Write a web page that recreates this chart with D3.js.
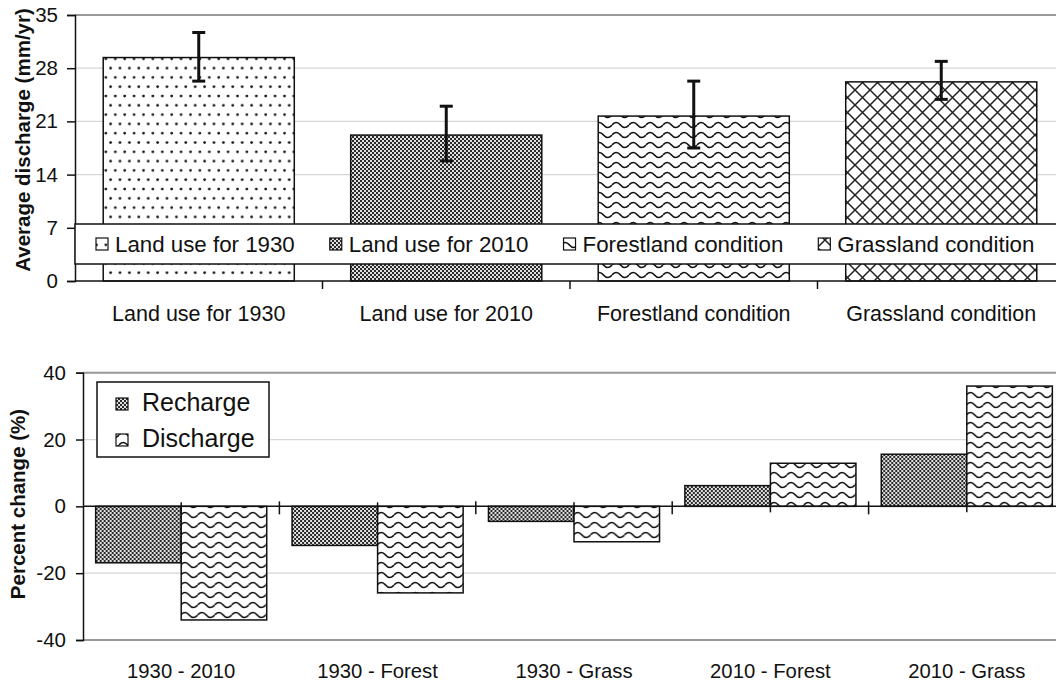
<!DOCTYPE html>
<html>
<head>
<meta charset="utf-8">
<script src="https://cdn.jsdelivr.net/npm/d3@7"></script>
<style>
  body { margin: 0; background: #fff; }
  svg { display: block; font-family: "Liberation Sans", Arial, sans-serif; }
</style>
</head>
<body>
<div id="chart"></div>
<script>
// top panel: average discharge
var topCategories = ["Land use for 1930", "Land use for 2010", "Forestland condition", "Grassland condition"];
var topValues = [29.4, 19.2, 21.7, 26.2];
var topErrLow = [26.3, 15.8, 17.5, 23.9];
var topErrHigh = [32.7, 23.0, 26.3, 28.9];
var topTicks = [0, 7, 14, 21, 28, 35];
var topPatterns = ["dots", "checker", "wave", "cross"];

// bottom panel: percent change
var bottomCategories = ["1930 - 2010", "1930 - Forest", "1930 - Grass", "2010 - Forest", "2010 - Grass"];
var seriesNames = ["Recharge", "Discharge"];
var rechargeValues = [-16.9, -11.7, -4.5, 6.2, 15.6];
var dischargeValues = [-34.0, -25.9, -10.6, 12.9, 36.0];
var bottomTicks = [-40, -20, 0, 20, 40];
var seriesPatterns = ["checker", "wave"];

var width = 1056, height = 684;
var svg = d3.select("#chart").append("svg").attr("width", width).attr("height", height);
var defs = svg.append("defs");

// fill patterns
var p = defs.append("pattern").attr("id", "dots").attr("patternUnits", "userSpaceOnUse")
	.attr("width", 9.4).attr("height", 18.6);
p.append("rect").attr("width", 9.4).attr("height", 18.6).attr("fill", "#fff");
p.append("circle").attr("cx", 2.5).attr("cy", 3).attr("r", 1.4).attr("fill", "#111");
p.append("circle").attr("cx", 7.2).attr("cy", 12.3).attr("r", 1.4).attr("fill", "#111");

p = defs.append("pattern").attr("id", "checker").attr("patternUnits", "userSpaceOnUse")
	.attr("width", 4).attr("height", 4);
p.append("rect").attr("width", 4).attr("height", 4).attr("fill", "#e0e0e0");
p.append("rect").attr("width", 2).attr("height", 2).attr("fill", "#2a2a2a");
p.append("rect").attr("x", 2).attr("y", 2).attr("width", 2).attr("height", 2).attr("fill", "#2a2a2a");

p = defs.append("pattern").attr("id", "wave").attr("patternUnits", "userSpaceOnUse")
	.attr("width", 17).attr("height", 10);
p.append("rect").attr("width", 17).attr("height", 10).attr("fill", "#fff");
p.append("path").attr("d", "M0,5 Q4.25,0 8.5,5 T17,5").attr("fill", "none")
	.attr("stroke", "#111").attr("stroke-width", 1.7);

p = defs.append("pattern").attr("id", "cross").attr("patternUnits", "userSpaceOnUse")
	.attr("width", 15).attr("height", 15);
p.append("rect").attr("width", 15).attr("height", 15).attr("fill", "#fff");
p.append("path").attr("d", "M-2,-2 L17,17 M17,-2 L-2,17").attr("fill", "none")
	.attr("stroke", "#222").attr("stroke-width", 1.5);

// ---------- top chart ----------
var topX = d3.scaleBand().domain(topCategories).range([75, 1065]).paddingInner(0.228).paddingOuter(0.114);
var topY = d3.scaleLinear().domain([0, 35]).range([281, 15]);

var topG = svg.append("g");

topG.selectAll(".grid").data(topTicks.filter(d => d > 0)).enter().append("line")
	.attr("x1", 75).attr("x2", width)
	.attr("y1", d => topY(d)).attr("y2", d => topY(d))
	.attr("stroke", d => d == 35 ? "#999" : "#d6d6d6")
	.attr("stroke-width", d => d == 35 ? 2 : 1.2);

topG.selectAll(".bar").data(topValues).enter().append("rect")
	.attr("x", (d, i) => topX(topCategories[i]))
	.attr("y", d => topY(d))
	.attr("width", topX.bandwidth())
	.attr("height", d => topY(0) - topY(d))
	.attr("fill", (d, i) => "url(#" + topPatterns[i] + ")")
	.attr("stroke", "#111").attr("stroke-width", 1.5);

// error bars
var eb = topG.selectAll(".err").data(topValues).enter().append("g")
	.attr("transform", (d, i) => "translate(" + (topX(topCategories[i]) + topX.bandwidth() / 2) + ",0)");
eb.append("line").attr("y1", (d, i) => topY(topErrLow[i])).attr("y2", (d, i) => topY(topErrHigh[i]))
	.attr("stroke", "#111").attr("stroke-width", 3);
eb.append("line").attr("x1", -6.5).attr("x2", 6.5)
	.attr("y1", (d, i) => topY(topErrHigh[i])).attr("y2", (d, i) => topY(topErrHigh[i]))
	.attr("stroke", "#111").attr("stroke-width", 3);
eb.append("line").attr("x1", -6.5).attr("x2", 6.5)
	.attr("y1", (d, i) => topY(topErrLow[i])).attr("y2", (d, i) => topY(topErrLow[i]))
	.attr("stroke", "#111").attr("stroke-width", 3);

// y axis
var topAxis = topG.append("g").attr("transform", "translate(75,0)")
	.call(d3.axisLeft(topY).tickValues(topTicks).tickFormat(d => String(d)).tickSize(8).tickPadding(9));
topAxis.selectAll("text").attr("font-size", 20.5).attr("fill", "#111").attr("font-family", "Liberation Sans, Arial, sans-serif");
topAxis.selectAll("line, path").attr("stroke", "#111").attr("stroke-width", 1.5);

// x axis line and boundary ticks
topG.append("line").attr("x1", 75).attr("x2", width).attr("y1", topY(0)).attr("y2", topY(0))
	.attr("stroke", "#111").attr("stroke-width", 1.5);
topG.selectAll(".xtick").data(topCategories.slice(1)).enter().append("line")
	.attr("x1", d => topX(d) - topX.step() * topX.paddingInner() / 2)
	.attr("x2", d => topX(d) - topX.step() * topX.paddingInner() / 2)
	.attr("y1", topY(0)).attr("y2", topY(0) + 8)
	.attr("stroke", "#111").attr("stroke-width", 1.5);

topG.selectAll(".xlab").data(topCategories).enter().append("text")
	.attr("x", d => topX(d) + topX.bandwidth() / 2).attr("y", 321)
	.attr("text-anchor", "middle").attr("font-size", 21.5).attr("fill", "#111")
	.text(d => d);

topG.append("text").attr("transform", "translate(30,140) rotate(-90)")
	.attr("text-anchor", "middle").attr("font-size", 20.5).attr("font-weight", "bold").attr("fill", "#111")
	.text("Average discharge (mm/yr)");

// legend overlay
var lg = topG.append("g");
lg.append("rect").attr("x", 75).attr("y", 224).attr("width", 1000).attr("height", 40)
	.attr("fill", "#fff").attr("stroke", "#111").attr("stroke-width", 1.5);
var lx = 96;
topCategories.forEach(function(c, i) {
	lg.append("rect").attr("x", lx).attr("y", 238).attr("width", 12).attr("height", 12)
		.attr("fill", "url(#" + topPatterns[i] + ")").attr("stroke", "#111").attr("stroke-width", 1.2);
	var t = lg.append("text").attr("x", lx + 19).attr("y", 252).attr("font-size", 22.3).attr("fill", "#111").text(c);
	lx += 19 + t.node().getComputedTextLength() + 35;
});

// ---------- bottom chart ----------
var bx0 = d3.scaleBand().domain(bottomCategories).range([83, 1065]).paddingInner(0.129).paddingOuter(0.0645);
var bx1 = d3.scaleBand().domain(seriesNames).range([0, bx0.bandwidth()]);
var by = d3.scaleLinear().domain([-40, 40]).range([640, 372.7]);

var bot = svg.append("g");

bot.selectAll(".grid").data(bottomTicks.filter(d => d != 0)).enter().append("line")
	.attr("x1", 83).attr("x2", width)
	.attr("y1", d => by(d)).attr("y2", d => by(d))
	.attr("stroke", d => Math.abs(d) == 40 ? "#999" : "#d6d6d6")
	.attr("stroke-width", d => Math.abs(d) == 40 ? 2 : 1.2);

var rows = bottomCategories.map((c, i) => ({cat: c, vals: [rechargeValues[i], dischargeValues[i]]}));
var grp = bot.selectAll(".grp").data(rows).enter().append("g")
	.attr("transform", d => "translate(" + bx0(d.cat) + ",0)");
grp.selectAll("rect").data(d => d.vals).enter().append("rect")
	.attr("x", (d, j) => bx1(seriesNames[j]))
	.attr("y", d => by(Math.max(0, d)))
	.attr("width", bx1.bandwidth())
	.attr("height", d => Math.abs(by(d) - by(0)))
	.attr("fill", (d, j) => "url(#" + seriesPatterns[j] + ")")
	.attr("stroke", "#111").attr("stroke-width", 1.5);

var botAxis = bot.append("g").attr("transform", "translate(83,0)")
	.call(d3.axisLeft(by).tickValues(bottomTicks).tickFormat(d => String(d)).tickSize(7).tickPadding(10));
botAxis.selectAll("text").attr("font-size", 20.5).attr("fill", "#111").attr("font-family", "Liberation Sans, Arial, sans-serif");
botAxis.selectAll("line, path").attr("stroke", "#111").attr("stroke-width", 1.5);

// zero line with ticks
bot.append("line").attr("x1", 83).attr("x2", width).attr("y1", by(0)).attr("y2", by(0))
	.attr("stroke", "#111").attr("stroke-width", 1.5);
bot.selectAll(".btick").data(bottomCategories.slice(1)).enter().append("line")
	.attr("x1", d => bx0(d) - bx0.step() * bx0.paddingInner() / 2)
	.attr("x2", d => bx0(d) - bx0.step() * bx0.paddingInner() / 2)
	.attr("y1", by(0) - 5).attr("y2", by(0) + 8)
	.attr("stroke", "#111").attr("stroke-width", 1.5);
bot.selectAll(".ctick").data(bottomCategories).enter().append("line")
	.attr("x1", d => bx0(d) + bx0.bandwidth() / 2)
	.attr("x2", d => bx0(d) + bx0.bandwidth() / 2)
	.attr("y1", by(0) - 4).attr("y2", by(0) + 6)
	.attr("stroke", "#111").attr("stroke-width", 1.5);

bot.selectAll(".xlab").data(bottomCategories).enter().append("text")
	.attr("x", d => bx0(d) + bx0.bandwidth() / 2).attr("y", 678)
	.attr("text-anchor", "middle").attr("font-size", 20.3).attr("fill", "#111")
	.text(d => d);

bot.append("text").attr("transform", "translate(25,504) rotate(-90)")
	.attr("text-anchor", "middle").attr("font-size", 20.5).attr("font-weight", "bold").attr("fill", "#111")
	.text("Percent change (%)");

// legend
var bl = bot.append("g");
bl.append("rect").attr("x", 97).attr("y", 382).attr("width", 172).attr("height", 75)
	.attr("fill", "#fff").attr("stroke", "#111").attr("stroke-width", 1.5);
seriesNames.forEach(function(s, j) {
	bl.append("rect").attr("x", 116).attr("y", 398 + j * 36).attr("width", 12).attr("height", 12)
		.attr("fill", "url(#" + seriesPatterns[j] + ")").attr("stroke", "#111").attr("stroke-width", 1.2);
	bl.append("text").attr("x", 142).attr("y", 411 + j * 36).attr("font-size", 25).attr("fill", "#111").text(s);
});
</script>
</body>
</html>
